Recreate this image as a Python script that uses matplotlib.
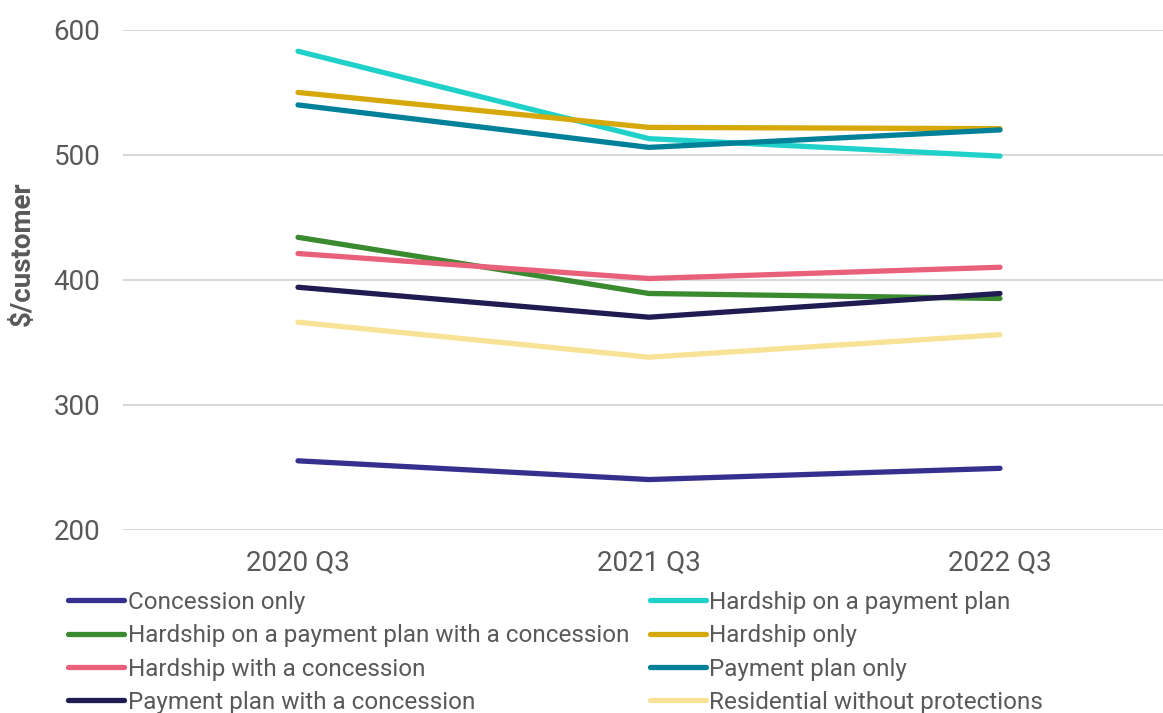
import matplotlib.pyplot as plt

plt.rcParams['font.family'] = ['Roboto', 'DejaVu Sans']

quarters = ["2020 Q3", "2021 Q3", "2022 Q3"]

concession_only = [255, 240, 249]
hardship_payment_plan = [583, 513, 499]
hardship_pp_concession = [434, 389, 385]
hardship_only = [550, 522, 521]
hardship_concession = [421, 401, 410]
payment_plan_only = [540, 506, 520]
payment_plan_concession = [394, 370, 389]
residential_no_protections = [366, 338, 356]

series_names = [
    "Concession only",
    "Hardship on a payment plan",
    "Hardship on a payment plan with a concession",
    "Hardship only",
    "Hardship with a concession",
    "Payment plan only",
    "Payment plan with a concession",
    "Residential without protections",
]
series_values = [
    concession_only,
    hardship_payment_plan,
    hardship_pp_concession,
    hardship_only,
    hardship_concession,
    payment_plan_only,
    payment_plan_concession,
    residential_no_protections,
]
series_colors = [
    "#35308E", "#20D1C9", "#3A8A30", "#D6A80A",
    "#E8607A", "#00819A", "#201C52", "#F8E296",
]

text_color = "#595959"

fig = plt.figure(figsize=(11.63, 7.13), dpi=100)
ax = fig.add_axes([122.5 / 1163, 1 - 529.5 / 713, 1 - 122.5 / 1163, (529.5 - 30) / 713])

x = list(range(len(quarters)))
handles = []
for name, vals, col in zip(series_names, series_values, series_colors):
    h, = ax.plot(x, vals, color=col, lw=3.8, solid_capstyle='round',
                 solid_joinstyle='miter', label=name)
    handles.append(h)

ax.set_ylim(200, 600)
ax.set_yticks([200, 300, 400, 500, 600])
ax.set_xlim(-0.5, (1163 - 122.5) / 351 - 0.5)
ax.set_xticks(x)
ax.set_xticklabels(quarters)

ax.grid(axis='y', color='#D9D9D9', lw=1.5)
ax.set_axisbelow(True)
for s in ax.spines.values():
    s.set_visible(False)
ax.tick_params(axis='both', length=0, labelsize=20, colors=text_color)
ax.tick_params(axis='y', pad=16)
ax.tick_params(axis='x', pad=15)

fig.text(22 / 1163, 1 - 254 / 713, "\\$/customer", rotation=90, ha='center', va='center',
         fontsize=20, fontweight='bold', color=text_color)

# legend laid out row by row across two columns
order = [0, 2, 4, 6, 1, 3, 5, 7]
leg = fig.legend([handles[i] for i in order], [series_names[i] for i in order],
                 ncol=2, loc='upper left', bbox_to_anchor=(68 / 1163, 1 - 591 / 713),
                 frameon=False, fontsize=17.5, handlelength=2.3, handletextpad=0.15,
                 columnspacing=0.85, labelspacing=0.425, borderaxespad=0, borderpad=0)
for t in leg.get_texts():
    t.set_color(text_color)

fig.savefig("out.png", dpi=100)
